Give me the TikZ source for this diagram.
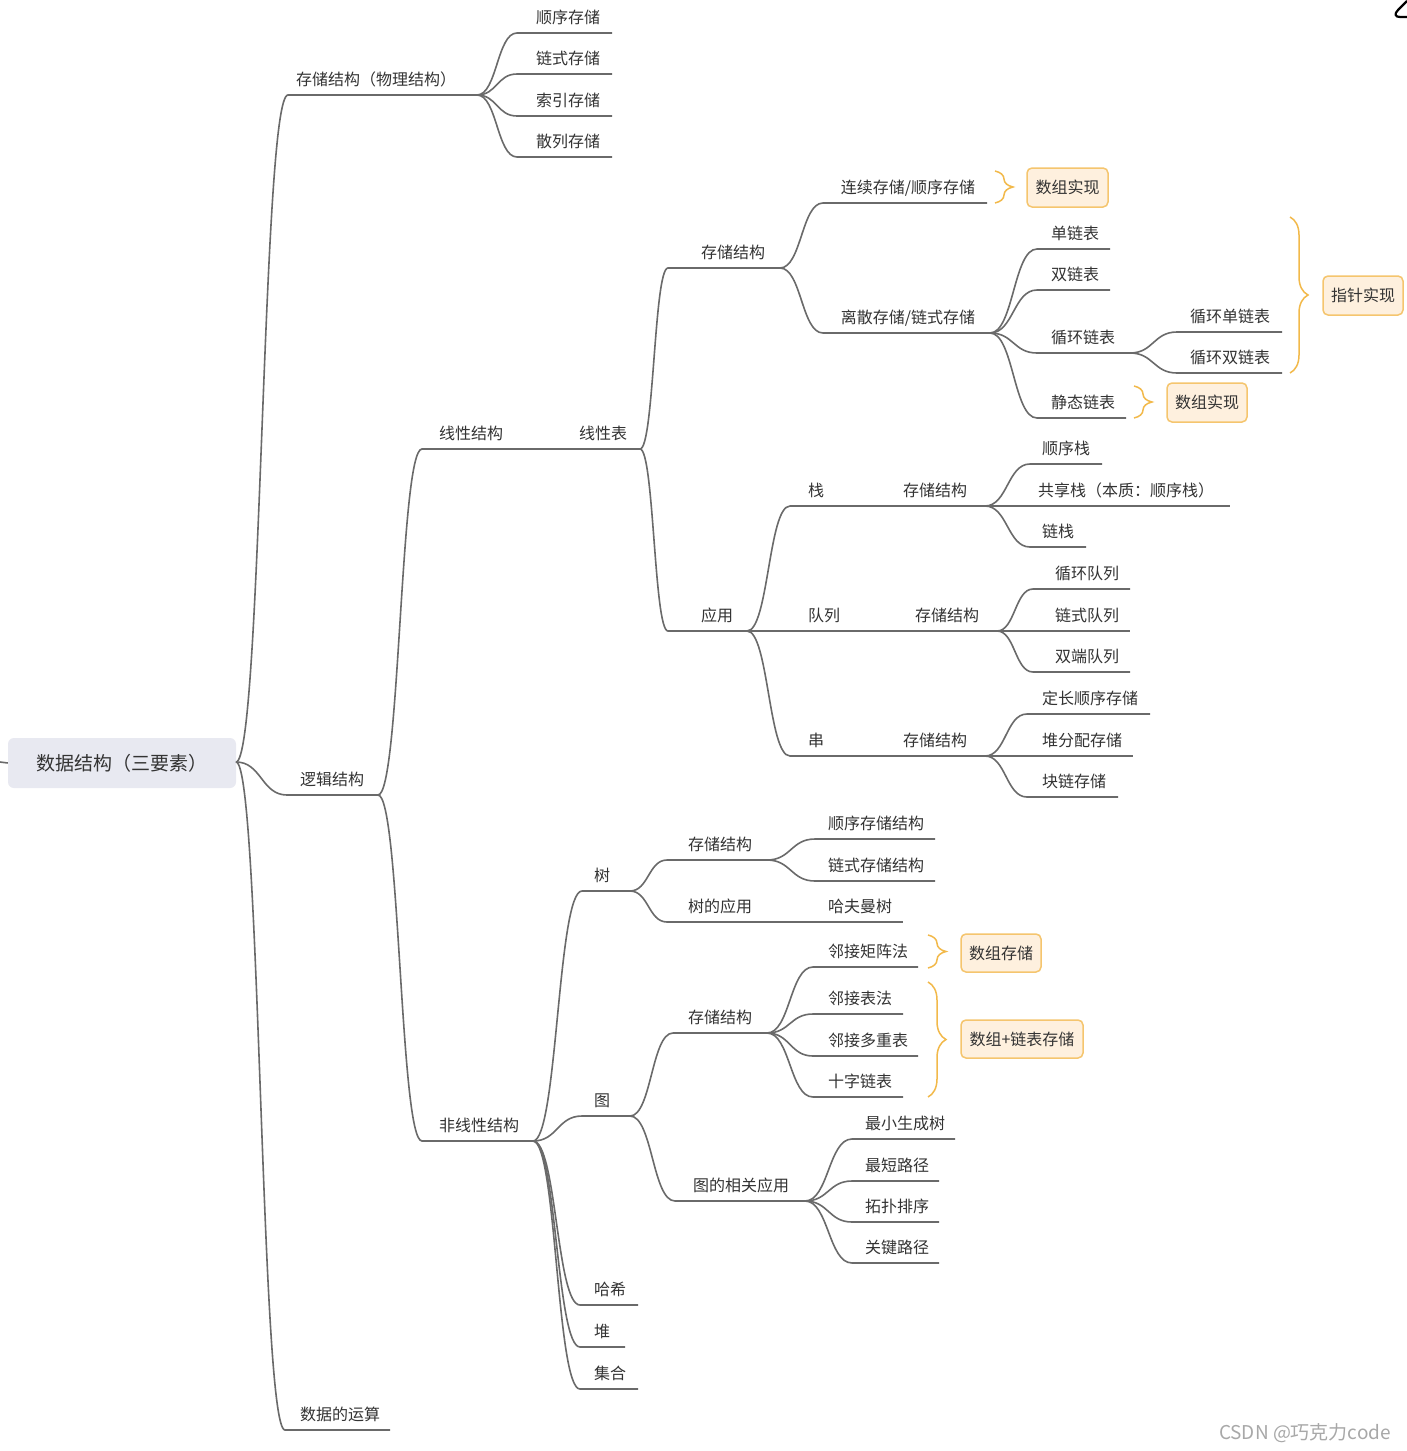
\documentclass[tikz,border=0pt]{standalone}
\usepackage{fontspec}
\setmainfont{Noto Sans CJK SC}
\usetikzlibrary{calc,decorations.pathreplacing}
\definecolor{txt}{HTML}{333333}
\definecolor{ln}{HTML}{6A6A6A}
\definecolor{org}{HTML}{F2B94A}
\definecolor{orgfill}{HTML}{FEF0DE}
\definecolor{orgdraw}{HTML}{F5C56E}
\definecolor{rootfill}{HTML}{E8E9F1}
\definecolor{wmark}{HTML}{A8A8A8}
\newcommand\tp[6]{\coordinate (#1-l) at (#2,#4); \coordinate (#1-r) at (#3,#4); \node[topic] (#1) at (#5,#4-10) {#6};}
\newcommand\con[2]{\draw[branch] let \p1=(#1-r), \p2=(#2-l), \n1={(\x2-\x1)/2} in (\p1) .. controls +(\n1,0pt) and +(-\n1,0pt) .. (\p2) -- (#2-r);}
\begin{document}
\begin{tikzpicture}[x=1pt,y=-1pt,
  topic/.style={anchor=base,inner sep=0pt,text=txt,font=\fontsize{16}{18}\selectfont},
  branch/.style={draw=ln,line width=1.6pt},
  bracestyle/.style={draw=org,line width=1.5pt,decorate,decoration={brace,amplitude=18pt}},
  obox/.style={rounded corners=5pt,fill=orgfill,draw=orgdraw,line width=1.5pt,inner sep=0pt,text=txt,font=\fontsize{16}{18}\selectfont,minimum height=39pt},
  rootbox/.style={rounded corners=6pt,fill=rootfill,inner sep=0pt,minimum width=228pt,minimum height=50pt,text=txt,font=\fontsize{19}{22}\selectfont}]
\useasboundingbox (0,0) rectangle (1407,1451);
\fill[white] (0,0) rectangle (1407,1451);

% root
\node[rootbox] (root) at (122,763) {数据结构（三要素）};
\coordinate (root-r) at (236,762);
\coordinate (stub) at (0,762);
\draw[branch] (stub) -- (root.west);

% level 1
\tp{A}{288}{477}{95}{376}{存储结构（物理结构）}
\tp{A1}{517}{612}{33}{568}{顺序存储}
\tp{A2}{517}{612}{74}{568}{链式存储}
\tp{A3}{517}{612}{116}{568}{索引存储}
\tp{A4}{517}{612}{157}{568}{散列存储}
\tp{B}{287}{378}{795}{332}{逻辑结构}
\tp{C}{285}{390}{1430}{340}{数据的运算}

% linear
\tp{B1}{422}{560}{449}{471}{线性结构}
\tp{B1a}{560}{640}{449}{603}{线性表}
\tp{L1}{668}{780}{268}{733}{存储结构}
\tp{L1a}{823}{987}{203}{908}{连续存储/顺序存储}
\tp{L1b}{823}{990}{333}{908}{离散存储/链式存储}
\tp{d1}{1037}{1110}{249}{1075}{单链表}
\tp{d2}{1037}{1110}{290}{1075}{双链表}
\tp{d3}{1037}{1130}{353}{1083}{循环链表}
\tp{d4}{1037}{1126}{418}{1083}{静态链表}
\tp{d3a}{1177}{1282}{332}{1230}{循环单链表}
\tp{d3b}{1177}{1282}{373}{1230}{循环双链表}
\tp{L2}{668}{747}{631}{717}{应用}
\tp{S}{790}{885}{506}{816}{栈}
\tp{Ss}{885}{985}{506}{935}{存储结构}
\tp{s1}{1030}{1102}{464}{1066}{顺序栈}
\tp{s2}{1030}{1230}{506}{1126}{共享栈（本质：顺序栈）}
\tp{s3}{1030}{1086}{547}{1058}{链栈}
\tp{Q}{747}{880}{631}{824}{队列}
\tp{Qs}{880}{997}{631}{947}{存储结构}
\tp{q1}{1033}{1130}{589}{1087}{循环队列}
\tp{q2}{1033}{1130}{631}{1087}{链式队列}
\tp{q3}{1033}{1130}{672}{1087}{双端队列}
\tp{R}{790}{885}{756}{816}{串}
\tp{Rs}{885}{985}{756}{935}{存储结构}
\tp{r1}{1027}{1150}{714}{1090}{定长顺序存储}
\tp{r2}{1027}{1133}{756}{1082}{堆分配存储}
\tp{r3}{1027}{1118}{797}{1074}{块链存储}

% non-linear
\tp{N}{422}{533}{1141}{479}{非线性结构}
\tp{T}{582}{630}{891}{602}{树}
\tp{Ts}{667}{767}{860}{720}{存储结构}
\tp{t1}{815}{935}{839}{876}{顺序存储结构}
\tp{t2}{815}{935}{881}{876}{链式存储结构}
\tp{Ta}{667}{790}{922}{720}{树的应用}
\tp{Tb}{790}{903}{922}{860}{哈夫曼树}
\tp{G}{582}{630}{1116}{602}{图}
\tp{Gs}{673}{767}{1033}{720}{存储结构}
\tp{g1}{813}{918}{967}{868}{邻接矩阵法}
\tp{g2}{813}{903}{1014}{860}{邻接表法}
\tp{g3}{813}{918}{1056}{868}{邻接多重表}
\tp{g4}{813}{903}{1097}{860}{十字链表}
\tp{Ga}{675}{805}{1201}{741}{图的相关应用}
\tp{a1}{852}{955}{1139}{905}{最小生成树}
\tp{a2}{852}{939}{1181}{897}{最短路径}
\tp{a3}{852}{939}{1222}{897}{拓扑排序}
\tp{a4}{852}{939}{1263}{897}{关键路径}
\tp{H}{580}{638}{1305}{610}{哈希}
\tp{P}{580}{625}{1347}{602}{堆}
\tp{J}{580}{638}{1389}{610}{集合}

% connectors
\con{root}{A}\con{root}{B}\con{root}{C}
\con{A}{A1}\con{A}{A2}\con{A}{A3}\con{A}{A4}
\con{B}{B1}\con{B}{N}
\con{B1}{B1a}
\con{B1a}{L1}\con{B1a}{L2}
\con{L1}{L1a}\con{L1}{L1b}
\con{L1b}{d1}\con{L1b}{d2}\con{L1b}{d3}\con{L1b}{d4}
\con{d3}{d3a}\con{d3}{d3b}
\con{L2}{S}\con{L2}{Q}\con{L2}{R}
\con{S}{Ss}\con{Ss}{s1}\con{Ss}{s2}\con{Ss}{s3}
\con{Q}{Qs}\con{Qs}{q1}\con{Qs}{q2}\con{Qs}{q3}
\con{R}{Rs}\con{Rs}{r1}\con{Rs}{r2}\con{Rs}{r3}
\con{N}{T}\con{N}{G}\con{N}{H}\con{N}{P}\con{N}{J}
\con{T}{Ts}\con{T}{Ta}\con{Ts}{t1}\con{Ts}{t2}\con{Ta}{Tb}
\con{G}{Gs}\con{G}{Ga}
\con{Gs}{g1}\con{Gs}{g2}\con{Gs}{g3}\con{Gs}{g4}
\con{Ga}{a1}\con{Ga}{a2}\con{Ga}{a3}\con{Ga}{a4}

% braces and boxes
\coordinate (br1t) at (995,171); \coordinate (br1b) at (995,203);
\coordinate (br2t) at (1290,217); \coordinate (br2b) at (1290,373);
\coordinate (br3t) at (1134,386); \coordinate (br3b) at (1134,418);
\coordinate (br4t) at (928,935); \coordinate (br4b) at (928,968);
\coordinate (br5t) at (928,982); \coordinate (br5b) at (928,1097);
\draw[bracestyle] (br1t) -- (br1b);
\draw[bracestyle] (br2t) -- (br2b);
\draw[bracestyle] (br3t) -- (br3b);
\draw[bracestyle] (br4t) -- (br4b);
\draw[bracestyle] (br5t) -- (br5b);
\node[obox,minimum width=81pt] (box1) at (1067.5,187.5) {数组实现};
\node[obox,minimum width=80pt] (box2) at (1363,295.5) {指针实现};
\node[obox,minimum width=80pt] (box3) at (1207,402.5) {数组实现};
\node[obox,minimum width=80pt,minimum height=38pt] (box4) at (1001,953) {数组存储};
\node[obox,minimum width=122pt,minimum height=38pt] (box5) at (1022,1039) {数组+链表存储};

% watermark
\node[anchor=base,inner sep=0pt,text=wmark,font=\fontsize{19}{21}\selectfont] (wm) at (1305,1439) {CSDN @巧克力code};

% corner artifact
\draw[line width=2.2pt,line join=round] (1407,1) -- (1398,10) .. controls (1394,14) and (1395,17) .. (1400,17) -- (1407,17);
\end{tikzpicture}
\end{document}
